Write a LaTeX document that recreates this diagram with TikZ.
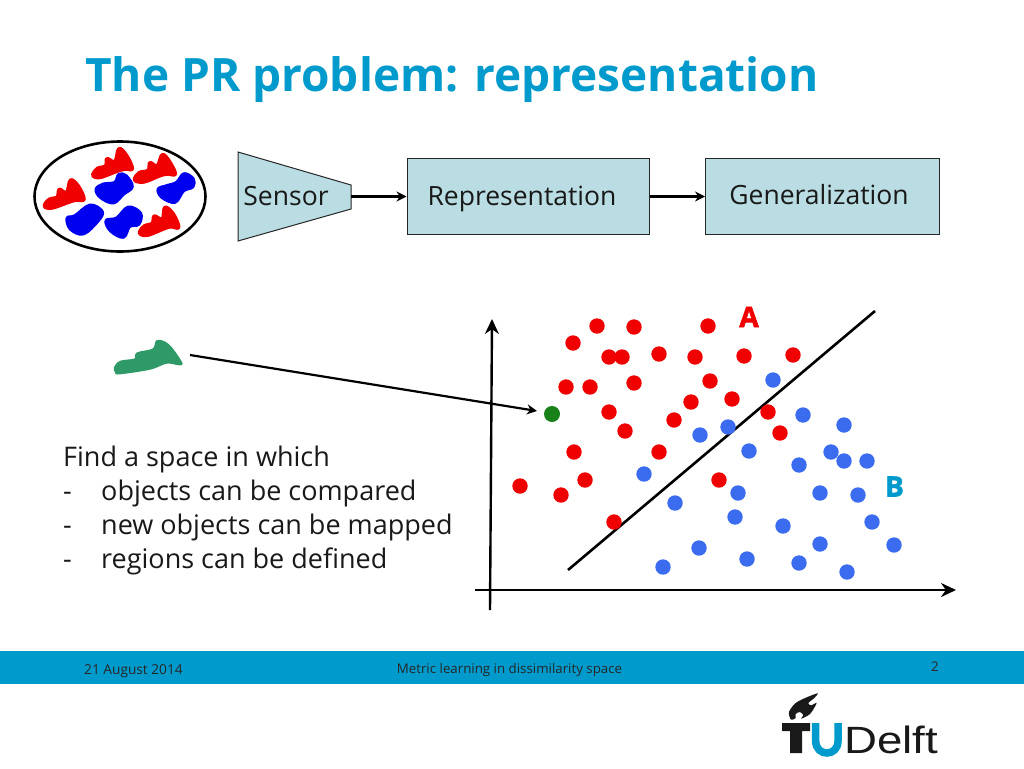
\documentclass[tikz,border=0pt]{standalone}
\usepackage{fontspec}
\setmainfont{Open Sans}
\newfontfamily\heros{Liberation Sans}
\newfontfamily\fatfont[FakeBold=2]{Open Sans Bold}
\usetikzlibrary{arrows.meta,positioning}
\definecolor{tublue}{HTML}{009BCC}
\definecolor{boxfill}{HTML}{B9DDE3}
\definecolor{ptred}{HTML}{F00000}
\definecolor{ptblue}{HTML}{3B6CF0}
\definecolor{objblue}{HTML}{0000F0}
\definecolor{objgreen}{HTML}{2F9A68}
\tikzset{
 x=1pt,y=-1pt,
 procbox/.style={draw=black!85,line width=1pt,fill=boxfill,inner sep=0pt},
 flow/.style={draw=black,line width=2.2pt,-{Stealth[length=10pt,width=10pt]}},
 axis/.style={draw=black,line width=2.4pt,-{Stealth[length=15pt,width=14pt]}},
 lbl/.style={font=\fontsize{27}{34}\selectfont,inner sep=0pt,text=black!90},
 boxlbl/.style={font=\fontsize{26.5}{34}\selectfont,inner sep=0pt,text=black!90,anchor=base},
 foot/.style={font=\fontsize{13.3}{16}\selectfont,inner sep=0pt,text=black!85},
 letter/.style={font=\fatfont\fontsize{28}{32}\selectfont,inner sep=0pt,anchor=base},
 blobred/.style={fill=ptred,draw=ptred,line width=3.6pt,line join=round},
 blobblue/.style={fill=objblue,draw=objblue,line width=3.6pt,line join=round},
}
\begin{document}
\begin{tikzpicture}
\useasboundingbox (0,0) rectangle (1024,768);
\fill[white] (0,0) rectangle (1024,768);
\node[anchor=base west,inner sep=0pt,text=tublue,font=\bfseries\fontsize{46}{54}\selectfont] (title) at (85,91) {The PR problem: representation};

% object cloud
\draw[line width=2.6pt,black] (120,196.5) ellipse [x radius=85.5,y radius=55];
\begin{scope}[shift={(20,130)},scale=1/3]
\draw[blobred] plot[smooth cycle,tension=.6] coordinates{(74,224)(88,208)(112,201)(118,178)(140,188)(152,150)(176,170)(192,208)(168,210)(145,217)(100,233)(78,233)};
\draw[blobred] plot[smooth cycle,tension=.6] coordinates{(219,132)(233,115)(257,108)(261,86)(285,95)(297,56)(320,77)(337,116)(315,117)(290,124)(245,141)(224,141)};
\draw[blobred] plot[smooth cycle,tension=.6] coordinates{(344,145)(358,128)(385,121)(390,98)(412,108)(427,74)(448,94)(466,132)(442,132)(420,137)(375,155)(349,154)};
\draw[blobred] plot[smooth cycle,tension=.6] coordinates{(359,305)(373,288)(397,280)(403,258)(427,268)(435,232)(460,252)(476,292)(452,290)(430,297)(385,315)(364,314)};
\draw[blobblue] plot[smooth cycle,tension=.6] coordinates{(229,178)(250,163)(285,158)(297,134)(318,138)(336,170)(310,192)(280,218)(242,202)};
\draw[blobblue] plot[smooth cycle,tension=.6] coordinates{(415,178)(440,168)(470,158)(492,132)(519,147)(518,170)(490,182)(465,216)(427,202)};
\draw[blobblue] plot[smooth cycle,tension=.6] coordinates{(142,265)(165,258)(210,226)(246,245)(233,273)(190,311)(152,297)};
\draw[blobblue] plot[smooth cycle,tension=.6] coordinates{(259,272)(290,265)(325,232)(361,250)(356,282)(328,289)(310,321)(272,302)};
\end{scope}

% sensor
\draw[procbox] (238,152) -- (351,185) -- (351,209) -- (238,241) -- cycle;
\node[boxlbl] (sensor) at (286,205) {Sensor};
\coordinate (sensorout) at (351,196.5);
\node[procbox,minimum width=242pt,minimum height=76pt] (rep) at (528,196.5) {};
\node[boxlbl] (replabel) at (522,205) {Representation};
\node[procbox,minimum width=234pt,minimum height=76pt] (gen) at (822.5,196.5) {};
\node[boxlbl] (genlabel) at (819,204) {Generalization};
\draw[flow] (sensorout) -- (rep.west);
\draw[flow] (rep.east) -- (gen.west);

% new object
\begin{scope}[shift={(100,330)},scale=1/3]
\draw[fill=objgreen,draw=objgreen,line width=2pt,line join=round] plot[smooth cycle,tension=.6] coordinates{(45,112)(62,95)(105,88)(112,70)(160,58)(172,33)(205,45)(242,95)(238,103)(200,98)(150,116)(60,130)(48,126)};
\end{scope}
\coordinate (objtip) at (190,355);
\fill[green!45!black!90] (552,414) circle[radius=8];
\coordinate (greenin) at (537,411);
\draw[flow] (objtip) -- (greenin);

% text
\node[lbl,anchor=base west] (t1) at (63,466) {Find a space in which};
\node[lbl,anchor=base west] (d2) at (63,500) {-};
\node[lbl,anchor=base west] (t2) at (101,500) {objects can be compared};
\node[lbl,anchor=base west] (d3) at (63,534) {-};
\node[lbl,anchor=base west] (t3) at (101,534) {new objects can be mapped};
\node[lbl,anchor=base west] (d4) at (63,568) {-};
\node[lbl,anchor=base west] (t4) at (101,568) {regions can be defined};

% axes
\coordinate (vb) at (490,610); \coordinate (vt) at (492,319);
\coordinate (hl) at (475,590); \coordinate (hr) at (956,590);
\draw[axis] (vb) -- (vt);
\draw[axis] (hl) -- (hr);
\coordinate (sepa) at (568,570); \coordinate (sepb) at (875,311);
\draw[black,line width=2.6pt] (sepa) -- (sepb);

\foreach \p in {(597,326),(634,327),(708,326),(573,343),(609,357),(622,357),(659,354),(695,357),(744,356),(793,355),(566,387),(590,387),(634,383),(710,381),(691,402),(732,399),(609,412),(674,420),(625,431),(768,412),(780,433),(574,452),(659,452),(585,480),(520,486),(561,495),(719,480),(614,522)}
 \fill[ptred] \p circle[radius=7.7];
\foreach \p in {(773,380),(803,415),(844,425),(700,435),(728,427),(749,451),(799,465),(831,452),(844,461),(867,461),(644,474),(738,493),(820,493),(858,495),(675,503),(735,517),(783,526),(872,522),(699,548),(747,559),(820,544),(894,545),(663,567),(799,563),(847,572)}
 \fill[ptblue] \p circle[radius=7.7];
\node[letter,text=ptred] (la) at (749,327) {A};
\node[letter,text=tublue] (lb) at (894.5,496.5) {B};

% footer
\fill[tublue] (0,651) rectangle (1024,684);
\node[foot,font=\fontsize{13.7}{16}\selectfont,anchor=base west] (date) at (84,674) {21 August 2014};
\node[foot,anchor=base] (ftitle) at (509.5,673) {Metric learning in dissimilarity space};
\node[foot,anchor=base] (page) at (935,671) {2};

% logo
\fill[black!90] (782,723) -- (810,723) -- (810,731) -- (802,731) -- (802,753) -- (790,753) -- (790,731) -- (782,731) -- cycle;
\draw[tublue,line width=7.5pt] (815.7,723) -- (815.7,741) .. controls (815.7,757) and (838,757) .. (838,741) -- (838,723);
\begin{scope}[shift={(775,688)},scale=1/3]
\fill[black!90] plot[smooth cycle,tension=.5] coordinates{(128,16)(95,28)(62,45)(42,72)(48,95)(62,90)(62,78)(75,72)(85,82)(78,92)(105,78)(125,45)(108,52)(100,45)(118,30)};
\end{scope}
\node[anchor=base west,inner sep=0pt,text=black!90,font=\heros\fontsize{38}{44}\selectfont] (delft) at (844,753) {\scalebox{1.2}[1]{Delft}};
\end{tikzpicture}
\end{document}
